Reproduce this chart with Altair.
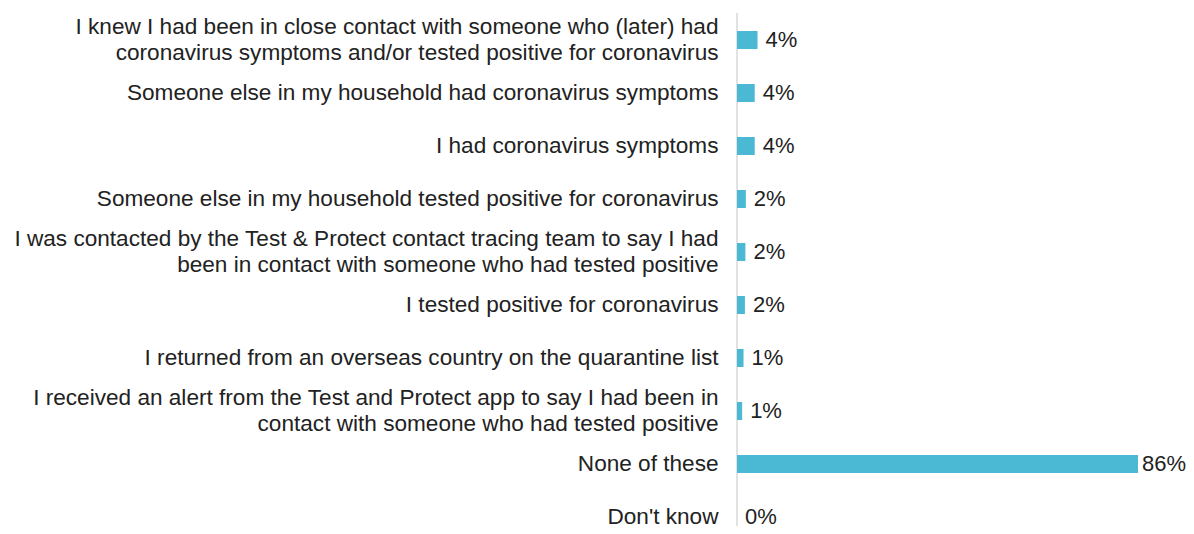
import altair as alt
import pandas as pd

categories = [
    "I knew I had been in close contact with someone who (later) had|coronavirus symptoms and/or tested positive for coronavirus",
    "Someone else in my household had coronavirus symptoms",
    "I had coronavirus symptoms",
    "Someone else in my household tested positive for coronavirus",
    "I was contacted by the Test & Protect contact tracing team to say I had|been in contact with someone who had tested positive",
    "I tested positive for coronavirus",
    "I returned from an overseas country on the quarantine list",
    "I received an alert from the Test and Protect app to say I had been in|contact with someone who had tested positive",
    "None of these",
    "Don't know",
]
values = [4.4, 3.8, 3.8, 1.9, 1.8, 1.7, 1.4, 1.1, 86.0, 0.0]

df = pd.DataFrame({"cat": categories, "val": values})
df["lbl"] = df["val"].round(0).astype(int).astype(str) + "%"

FONT = "Liberation Sans"
BAR = "#4bb8d4"
TXT = "#222222"

x = alt.X("val:Q", scale=alt.Scale(domain=[0, 86], nice=False, zero=True), axis=None)
y = alt.Y(
    "cat:N",
    sort=categories,
    scale=alt.Scale(paddingInner=0.66, paddingOuter=0.17, align=1),
    axis=alt.Axis(
        title=None,
        ticks=False,
        domain=False,
        labelExpr="split(datum.label, '|')",
        labelFont=FONT,
        labelFontSize=22.6,
        labelLineHeight=26,
        labelColor=TXT,
        labelLimit=0,
        labelPadding=19,
        labelOffset={
            "condition": {"test": "indexof(datum.value, '|') >= 0", "value": -13},
            "value": 0,
        },
    ),
)

base = alt.Chart(df)

rule = alt.Chart(pd.DataFrame({"z": [0]})).mark_rule(
    color="#d9d9d9", strokeWidth=1.5
).encode(x=alt.value(0), y=alt.value(0), y2=alt.value(560))

bars = base.mark_bar(color=BAR).encode(x=x, y=y)

text_small = base.transform_filter("datum.val < 50").mark_text(
    align="left", baseline="middle", dx=8, font=FONT, fontSize=22, color=TXT
).encode(x=x, y=y, text="lbl:N")

text_big = base.transform_filter("datum.val >= 50").mark_text(
    align="left", baseline="middle", dx=4, font=FONT, fontSize=22, color=TXT
).encode(x=x, y=y, text="lbl:N")

chart = (
    alt.layer(rule, bars, text_small, text_big)
    .properties(
        width=401,
        height=513,
        background="white",
        autosize=alt.AutoSizeParams(type="none"),
        padding={"left": 729, "top": 5, "right": 48, "bottom": 0},
    )
    .configure_view(strokeWidth=0)
)

chart.save("out.html", embed_options={"renderer": "svg", "actions": False})
